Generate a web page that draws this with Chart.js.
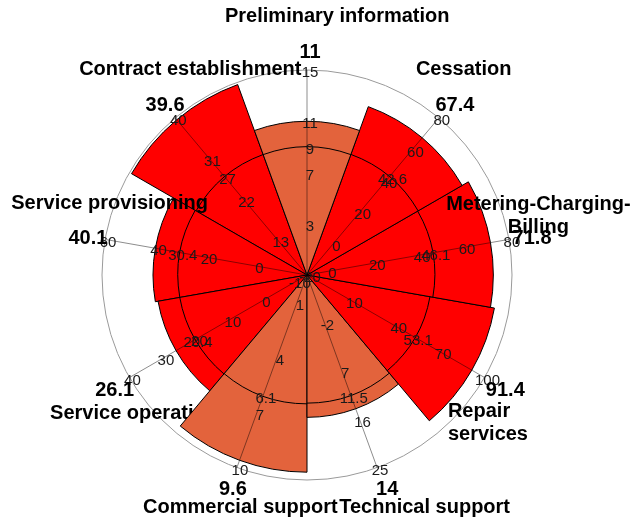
<!DOCTYPE html>
<html>
<head>
<meta charset="utf-8">
<script src="https://cdn.jsdelivr.net/npm/chart.js@4"></script>
<style>
  html, body { margin: 0; padding: 0; background: #fff; }
  canvas { display: block; }
</style>
</head>
<body>
<canvas id="chart" width="632" height="526"></canvas>
<script>
// categories, one sector each, clockwise from the top
const categories = [
  "Preliminary information",
  "Cessation",
  "Metering-Charging-\nBilling",
  "Repair\nservices",
  "Technical support",
  "Commercial support",
  "Service operation",
  "Service provisioning",
  "Contract establishment",
];
const values = [11, 67.4, 71.8, 91.4, 14, 9.6, 26.1, 40.1, 39.6];
const averages = [9, 42.6, 46.1, 53.1, 11.5, 6.1, 20.4, 30.4, 27];
const groups = ["low", "high", "high", "high", "low", "low", "high", "high", "high"];

// each sector has its own radial axis
const axisMin = [-1, -20, -10, -20, -11, -0.5, -13, -20, 5.3];
const axisMax = [15, 80, 80, 100, 25, 10, 40, 60, 40];
const axisTicks = [
  [3, 7, 11, 15],
  [0, 20, 40, 60, 80],
  [0, 20, 40, 60, 80],
  [-20, 10, 40, 70, 100],
  [-2, 7, 16, 25],
  [1, 4, 7, 10],
  [-10, 0, 10, 20, 30, 40],
  [0, 20, 40, 60],
  [13, 22, 31, 40],
];

const groupColors = { low: "#e3633c", high: "#ff0000" };
const FONT = '"Liberation Sans", Arial, sans-serif';

// category label placement, nudged from a point just outside the outer ring
const labelNudge = [[-82, -2], [-8, -9], [-21, -15], [-81, 19], [30, -8], [21, -8], [-35, 10], [55, -27], [48, -9]];
const labelAlign = ["left", "center", "center", "left", "center", "center", "left", "center", "center"];

const norm = (i, v) => (v - axisMin[i]) / (axisMax[i] - axisMin[i]);
const normValues = values.map((v, i) => norm(i, v));

function axisAngle(scale, i) {
  return scale.getIndexAngle(i) + Math.PI / categories.length - Math.PI / 2;
}
function pointAt(scale, i, n) {
  const a = axisAngle(scale, i);
  const r = scale.getDistanceFromCenterForValue(n);
  return { x: scale.xCenter + Math.cos(a) * r, y: scale.yCenter + Math.sin(a) * r };
}

function drawCategory(ctx, scale, i) {
  const p = pointAt(scale, i, 1.25);
  const lines = categories[i].split("\n");
  const x = p.x + labelNudge[i][0];
  const y0 = p.y + labelNudge[i][1] - (lines.length - 1) * 11;
  ctx.fillStyle = "#000";
  ctx.font = "bold 20px " + FONT;
  ctx.textBaseline = "middle";
  ctx.textAlign = labelAlign[i];
  lines.forEach((t, k) => ctx.fillText(t, x, y0 + k * 23));
}

const sectorLayers = {
  id: "sectorLayers",
  beforeDatasetDraw() {
    // sectors are drawn below, interleaved with their names
    return false;
  },
  afterDatasetsDraw(chart) {
    const ctx = chart.ctx;
    const scale = chart.scales.r;
    const arcs = chart.getDatasetMeta(0).data;
    const step = (Math.PI * 2) / categories.length;
    ctx.save();

    // outer ring
    ctx.strokeStyle = "#9a9a9a";
    ctx.lineWidth = 1;
    ctx.beginPath();
    ctx.arc(scale.xCenter, scale.yCenter, scale.getDistanceFromCenterForValue(1), 0, Math.PI * 2);
    ctx.stroke();

    // last sector first, each followed by its name
    for (let i = categories.length - 1; i >= 0; i--) {
      arcs[i].draw(ctx);
      drawCategory(ctx, scale, i);
    }

    // axis lines
    ctx.strokeStyle = "rgba(0,0,0,0.45)";
    ctx.lineWidth = 1;
    categories.forEach((_, i) => {
      const p = pointAt(scale, i, 1);
      ctx.beginPath();
      ctx.moveTo(scale.xCenter, scale.yCenter);
      ctx.lineTo(p.x, p.y);
      ctx.stroke();
    });

    // average ring
    ctx.strokeStyle = "#000";
    averages.forEach((v, i) => {
      const a = axisAngle(scale, i);
      const r = scale.getDistanceFromCenterForValue(norm(i, v));
      ctx.beginPath();
      ctx.arc(scale.xCenter, scale.yCenter, r, a - step / 2, a + step / 2);
      ctx.stroke();
    });

    // tick labels and averages
    ctx.fillStyle = "#1a1a1a";
    ctx.font = "15px " + FONT;
    ctx.textAlign = "center";
    ctx.textBaseline = "middle";
    axisTicks.forEach((ticks, i) => {
      ticks.concat([averages[i]]).forEach((t) => {
        const p = pointAt(scale, i, norm(i, t));
        ctx.fillText(String(t), p.x + 3, p.y + 3);
      });
    });

    // values
    ctx.fillStyle = "#000";
    ctx.font = "bold 20px " + FONT;
    values.forEach((v, i) => {
      const p = pointAt(scale, i, 1.1);
      ctx.fillText(String(v), p.x + 3, p.y + 3);
    });
    ctx.restore();
  },
};

new Chart(document.getElementById("chart"), {
  type: "polarArea",
  data: {
    labels: categories,
    datasets: [
      {
        data: normValues,
        backgroundColor: groups.map((g) => groupColors[g]),
        borderColor: "#000",
        borderWidth: 1,
      },
    ],
  },
  options: {
    responsive: false,
    animation: false,
    layout: { padding: { left: 102, right: 120, top: 70, bottom: 46 } },
    plugins: {
      legend: { display: false },
      tooltip: { enabled: false },
    },
    scales: {
      r: {
        min: 0,
        max: 1,
        startAngle: -20,
        ticks: { display: false },
        grid: { display: false },
        angleLines: { display: false },
        pointLabels: { display: false },
      },
    },
  },
  plugins: [sectorLayers],
});
</script>
</body>
</html>
